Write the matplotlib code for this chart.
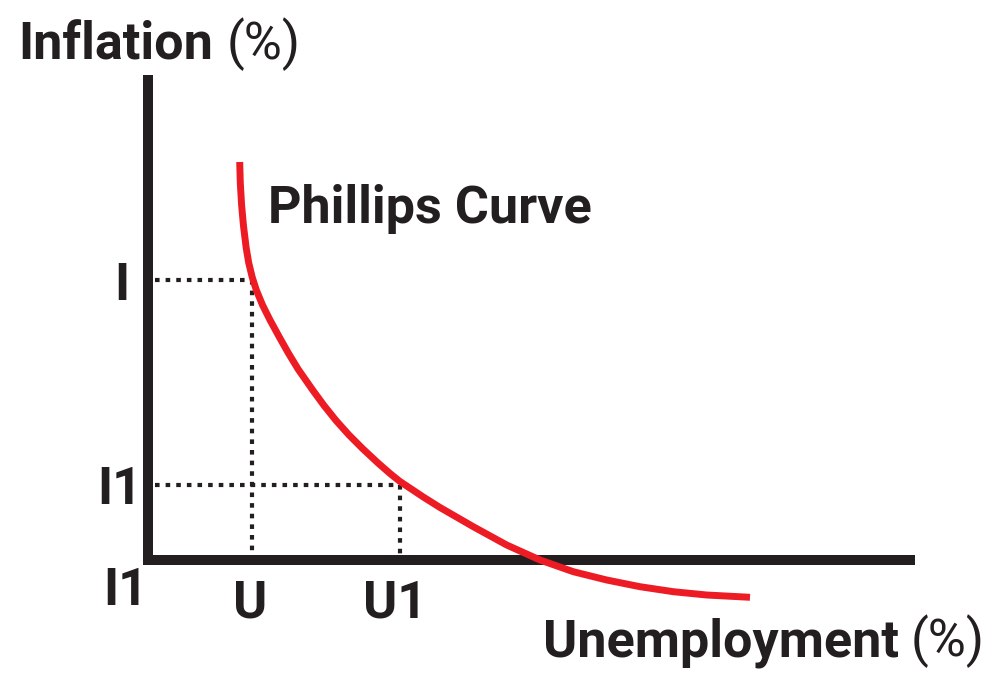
import matplotlib
matplotlib.use('Agg')
import matplotlib.pyplot as plt
from matplotlib import font_manager

# Phillips curve (unemployment, inflation)
curve_u = [1.2034, 1.2113, 1.2283, 1.2533, 1.2887, 1.3222, 1.3668, 1.4213, 1.5026,
           1.6010, 1.7192, 1.8373, 1.9685, 2.1654, 2.3097, 2.4672, 2.6378, 2.8215,
           3.0184, 3.1759, 3.3071, 3.6129, 3.8320, 4.2690, 4.7073, 5.1444, 5.5814,
           6.0197, 6.4567, 6.8937, 7.3320, 7.9003]
curve_i = [8.2917, 7.8542, 7.3958, 6.9583, 6.5000, 6.1875, 5.8958, 5.6250, 5.3125,
           5.0000, 4.6563, 4.3229, 3.9792, 3.5313, 3.2188, 2.9063, 2.6042, 2.3125,
           2.0208, 1.8021, 1.6354, 1.3125, 1.0938, 0.6938, 0.3125, 0.0, -0.2438,
           -0.4167, -0.5563, -0.6604, -0.7292, -0.7771]

# marked points
U, I = 1.365, 5.833
U1, I1 = 3.307, 1.5625

ink = '#231f20'
red = '#ed1c24'

names = {f.name for f in font_manager.fontManager.ttflist}
if 'Liberation Sans Narrow' in names:
    fam, fs = 'Liberation Sans Narrow', 43
else:
    fam, fs = 'Roboto', 37.5
plt.rcParams['font.family'] = [fam, 'DejaVu Sans']

fig = plt.figure(figsize=(10, 6.74), dpi=100)
ax = fig.add_axes([148 / 1000, (674 - 560) / 674, (910 - 148) / 1000, (560 - 80) / 674])
ax.set_xlim(0, 10)
ax.set_ylim(0, 10)

for side in ['top', 'right']:
    ax.spines[side].set_visible(False)
for side in ['left', 'bottom']:
    ax.spines[side].set_linewidth(7.2)
    ax.spines[side].set_color(ink)
    ax.spines[side].set_capstyle('projecting')
ax.set_xticks([])
ax.set_yticks([])

dots = dict(color=ink, lw=3, linestyle=(0, (1.1, 1.45)), dash_capstyle='butt', clip_on=False)
ax.plot([0.09, U], [I, I], **dots)
ax.plot([U, U], [I, 0.1], **dots)
ax.plot([0.09, U1], [I1, I1], **dots)
ax.plot([U1, U1], [I1, 0.1], **dots)

ax.plot(curve_u, curve_i, color=red, lw=5, solid_capstyle='butt', solid_joinstyle='round',
        clip_on=False, zorder=3)

ax.text(1.575, 7.02, 'Phillips Curve', fontsize=fs, fontweight='bold', color=ink)

ax.text(-0.34, I, 'I', fontsize=fs, fontweight='bold', color=ink,
        ha='center', va='center_baseline')
ax.text(-0.37, I1, 'I1', fontsize=fs, fontweight='bold', color=ink,
        ha='center', va='center_baseline')
ax.text(-0.29, -0.9375, 'I1', fontsize=fs, fontweight='bold', color=ink, ha='center')
ax.text(U - 0.03, -1.1875, 'U', fontsize=fs, fontweight='bold', color=ink, ha='center')
ax.text(U1 - 0.06, -1.1875, 'U1', fontsize=fs, fontweight='bold', color=ink, ha='center')

t1 = ax.text(-1.706, 10.417, 'Inflation', fontsize=fs, fontweight='bold', color=ink)
ax.annotate('(%)', xy=(1, 0), xycoords=t1, xytext=(10, 0), textcoords='offset points',
            fontsize=fs, color=ink, va='bottom')

t2 = ax.text(5.184, -2.02, 'Unemployment', fontsize=fs, fontweight='bold', color=ink)
ax.annotate('(%)', xy=(1, 0), xycoords=t2, xytext=(8, 0), textcoords='offset points',
            fontsize=fs, color=ink, va='bottom')

fig.savefig('out.png', dpi=100)
